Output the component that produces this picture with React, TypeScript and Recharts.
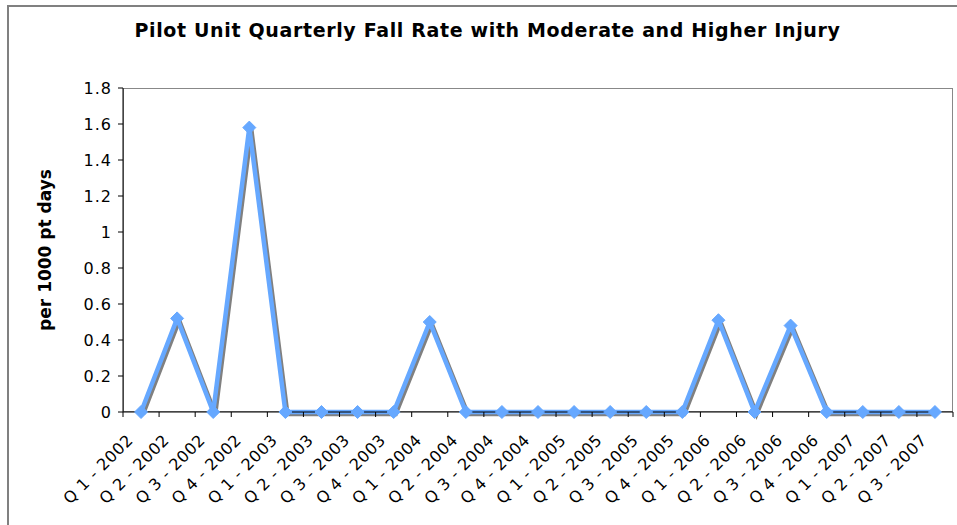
import React from 'react';
import { LineChart, Line, XAxis, YAxis } from 'recharts';

const categories = [
  'Q 1 - 2002', 'Q 2 - 2002', 'Q 3 - 2002', 'Q 4 - 2002',
  'Q 1 - 2003', 'Q 2 - 2003', 'Q 3 - 2003', 'Q 4 - 2003',
  'Q 1 - 2004', 'Q 2 - 2004', 'Q 3 - 2004', 'Q 4 - 2004',
  'Q 1 - 2005', 'Q 2 - 2005', 'Q 3 - 2005', 'Q 4 - 2005',
  'Q 1 - 2006', 'Q 2 - 2006', 'Q 3 - 2006', 'Q 4 - 2006',
  'Q 1 - 2007', 'Q 2 - 2007', 'Q 3 - 2007',
];
const fallRate = [
  0, 0.52, 0, 1.58,
  0, 0, 0, 0,
  0.5, 0, 0, 0,
  0, 0, 0, 0,
  0.51, 0, 0.48, 0,
  0, 0, 0,
];
const yTicks = [0, 0.2, 0.4, 0.6, 0.8, 1, 1.2, 1.4, 1.6, 1.8];

const data = categories.map((c, i) => ({ quarter: c, rate: fallRate[i] }));

const W = 957;
const H = 525;
const PLOT_LEFT = 123;
const PLOT_TOP = 88;
const PLOT_RIGHT = 953;
const PLOT_BOTTOM = 412;
const BAND = (PLOT_RIGHT - PLOT_LEFT) / categories.length;
const FONT = '"DejaVu Sans", Verdana, sans-serif';
const LINE_COLOR = '#66a8ff';

const XTick = (props: any) => {
  const { x, y, payload, index } = props;
  const px = x - 7;
  const py = y + 29;
  const isLast = index === categories.length - 1;
  return (
    <g>
      <line x1={x - BAND / 2} y1={y} x2={x - BAND / 2} y2={y + 5} stroke="#000" />
      {isLast && <line x1={x + BAND / 2} y1={y} x2={x + BAND / 2} y2={y + 5} stroke="#000" />}
      <text
        x={px}
        y={py}
        transform={`rotate(-45, ${px}, ${py})`}
        textAnchor="end"
        fontSize={16}
        letterSpacing={0.6}
        fontFamily={FONT}
        fill="#000"
      >
        {payload.value}
      </text>
    </g>
  );
};

const YTick = (props: any) => {
  const { x, y, payload } = props;
  return (
    <text
      x={x}
      y={y}
      dy="0.36em"
      textAnchor="end"
      fontSize={16}
      letterSpacing={1}
      fontFamily={FONT}
      fill="#000"
    >
      {payload.value}
    </text>
  );
};

const Diamond = (props: any) => {
  const { cx, cy } = props;
  if (cx == null || cy == null) return null;
  const r = 6.5;
  return (
    <polygon
      points={`${cx},${cy - r} ${cx + r},${cy} ${cx},${cy + r} ${cx - r},${cy}`}
      fill={LINE_COLOR}
      stroke={LINE_COLOR}
    />
  );
};

export default function App() {
  return (
    <div
      style={{
        position: 'fixed',
        left: 0,
        top: 0,
        width: W,
        height: H,
        overflow: 'hidden',
        background: '#fff',
        fontFamily: FONT,
      }}
    >
      <style>{`.shadowed { filter: drop-shadow(2px 2px 0px #808080); }`}</style>
      <div
        style={{
          position: 'absolute',
          left: 7,
          top: 5,
          width: W + 20,
          height: H + 20,
          border: '2px solid #808080',
          boxSizing: 'border-box',
        }}
      />
      <div
        style={{
          position: 'absolute',
          left: PLOT_LEFT,
          top: PLOT_TOP,
          width: PLOT_RIGHT - PLOT_LEFT,
          height: PLOT_BOTTOM - PLOT_TOP,
          border: '1.5px solid #888',
          boxSizing: 'border-box',
        }}
      />
      <div
        style={{
          position: 'absolute',
          left: 0,
          top: 19,
          width: 975,
          textAlign: 'center',
          fontWeight: 'bold',
          fontSize: 19,
          letterSpacing: 0.65,
          color: '#000',
          whiteSpace: 'nowrap',
        }}
      >
        Pilot Unit Quarterly Fall Rate with Moderate and Higher Injury
      </div>
      <div style={{ position: 'absolute', left: 0, top: 0 }}>
        <LineChart
          width={W}
          height={H}
          data={data}
          margin={{ top: PLOT_TOP, right: W - PLOT_RIGHT, bottom: 0, left: 0 }}
        >
          <XAxis
            dataKey="quarter"
            height={H - PLOT_BOTTOM}
            interval={0}
            padding={{ left: BAND / 2, right: BAND / 2 }}
            tickLine={false}
            tickSize={0}
            tickMargin={0}
            axisLine={{ stroke: '#000', strokeWidth: 1 }}
            tick={<XTick />}
          />
          <YAxis
            width={PLOT_LEFT}
            domain={[0, 1.8]}
            ticks={yTicks}
            interval={0}
            tickSize={5}
            tickMargin={6}
            axisLine={{ stroke: '#000', strokeWidth: 1 }}
            tickLine={{ stroke: '#000' }}
            tick={<YTick />}
            label={{
              value: 'per 1000 pt days',
              angle: -90,
              position: 'insideLeft',
              offset: 45,
              style: {
                textAnchor: 'middle',
                fontWeight: 'bold',
                fontSize: 17,
                fontFamily: FONT,
                fill: '#000',
              },
            }}
          />
          <Line
            className="shadowed"
            type="linear"
            dataKey="rate"
            stroke={LINE_COLOR}
            strokeWidth={4.5}
            dot={<Diamond />}
            activeDot={false}
            isAnimationActive={false}
          />
        </LineChart>
      </div>
    </div>
  );
}
